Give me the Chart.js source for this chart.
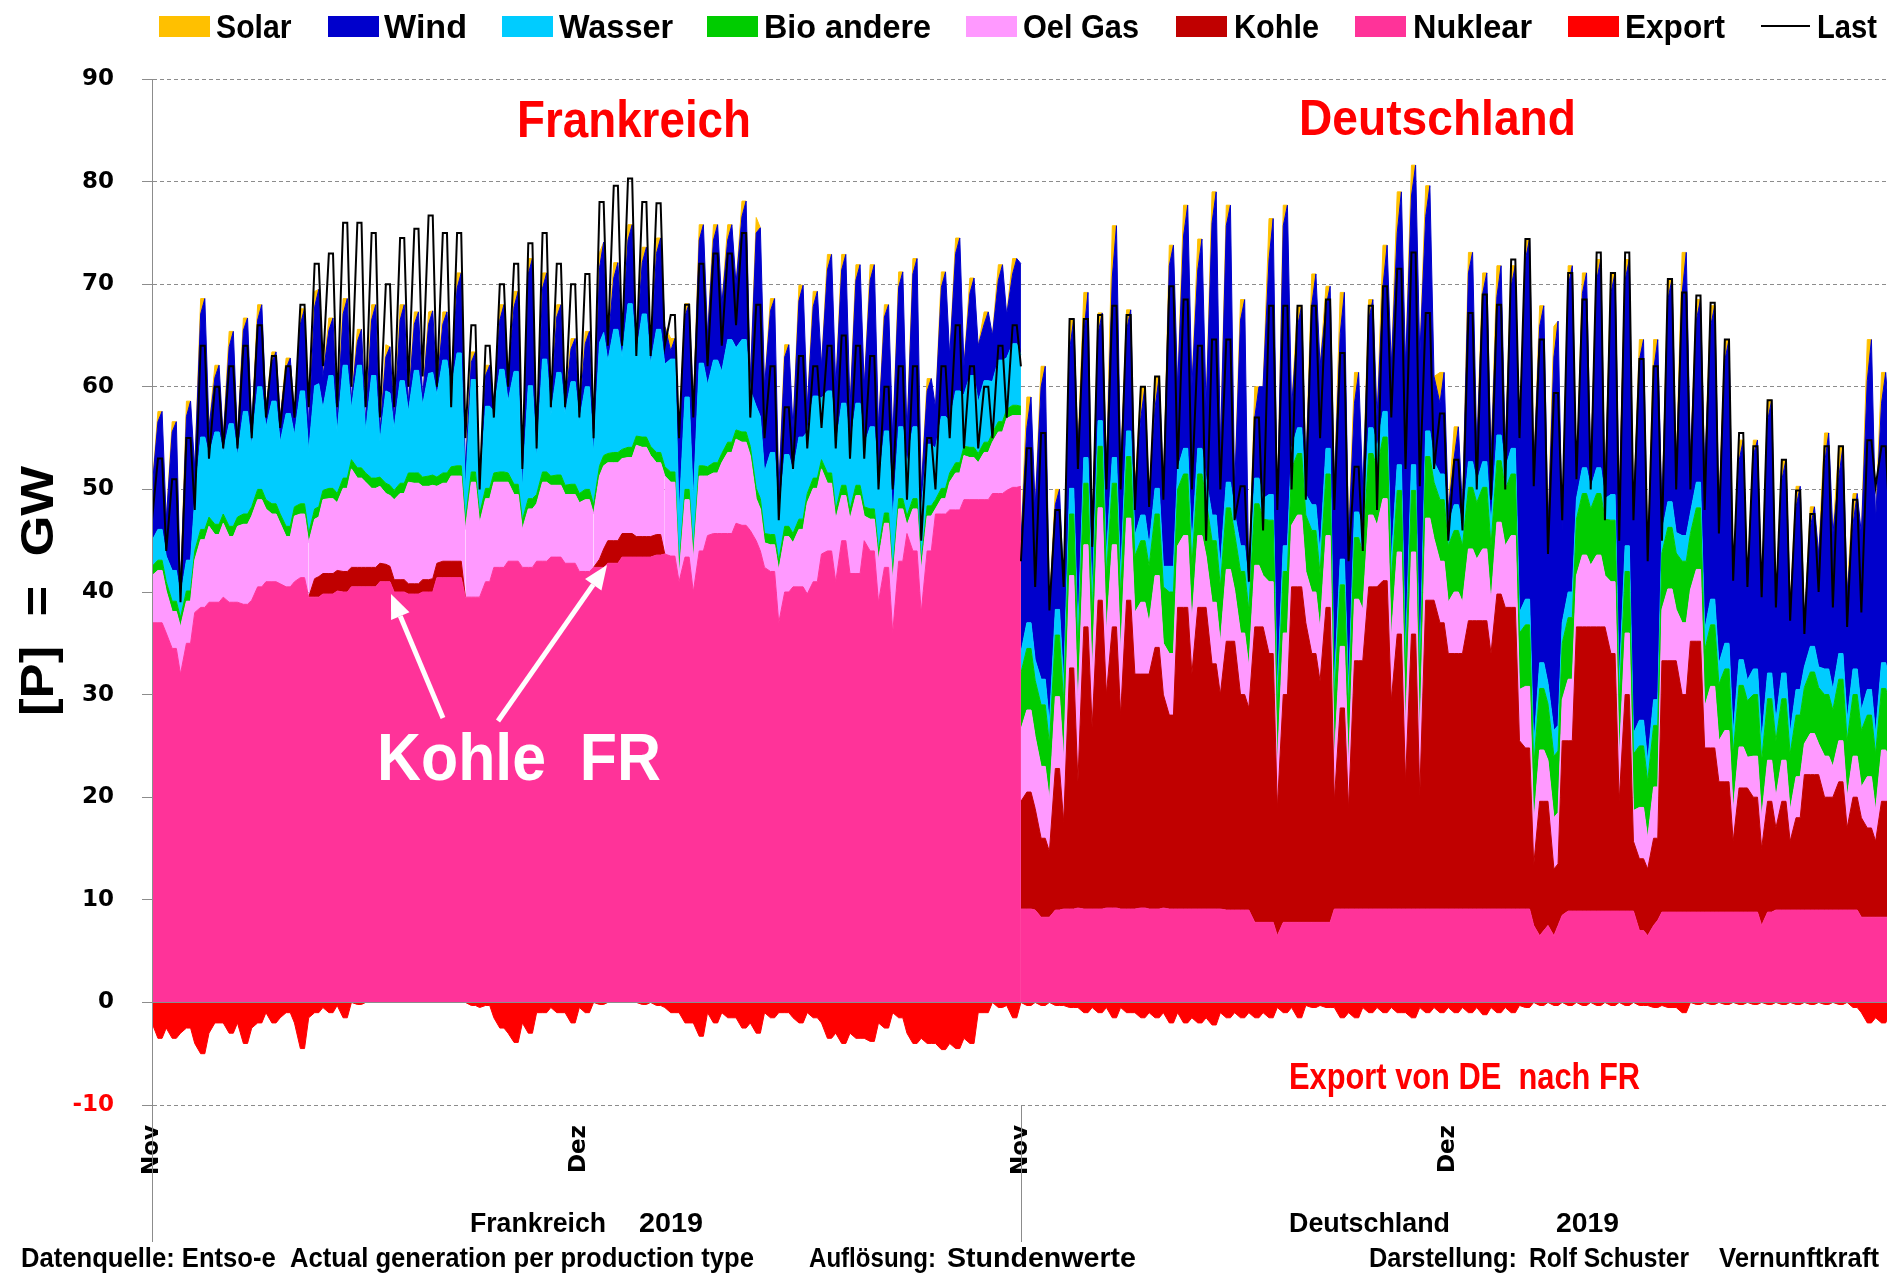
<!DOCTYPE html>
<html>
<head>
<meta charset="utf-8">
<script src="https://cdn.jsdelivr.net/npm/chart.js@4.4.1/dist/chart.umd.min.js"></script>
<style>
html,body{margin:0;padding:0;background:#ffffff;}
#wrap{width:1887px;height:1276px;position:relative;background:#ffffff;}
</style>
</head>
<body>
<div id="wrap"><canvas id="c" width="1887" height="1276"></canvas></div>
<script>
// ================= DATA =================
// x axis: days since 1 Nov (France 0..61, Germany 61..122).
// Three readings per day (about 0h, 10h, 17h), plus a closing value at the end of each country.
const tickDays = [0, 30, 61, 91];
const tickLabels = ['Nov', 'Dez', 'Nov', 'Dez'];
const frStartDay = 0;
const deStartDay = 61;
const daysPerCountry = 61;
const sampleHours = [0, 10, 17];
const seriesNames = ['Solar', 'Wind', 'Wasser', 'Bio andere', 'Oel Gas', 'Kohle', 'Nuklear', 'Export', 'Last'];

// ---- Frankreich (GW) ----
const frNuklear = [
37,37,37, 36,34.5,34.5, 32,35,35, 38,38.5,38.5, 39,39,39, 39.5,39,39, 39,38.8,38.8, 39.2,40.5,40.5, 41,41,41, 40.8,40.5,40.5,
41,41.4,41.4, 39.5,39.5,39.5, 39.8,39.8,39.8, 40.1,40,40, 40.5,40.5,40.5, 40.5,40.5,40.5, 41,41,41, 40,40,40, 39.8,39.8,39.8, 40,40,40,
41.4,41.4,41.4, 41.4,41.4,41.4, 39.5,39.5,39.5, 39.5,41,41, 42.4,42.4,42.4, 43,43,43, 42.4,42.4,42.4, 43,43,43, 43.4,43.4,43.4, 42.8,42.8,42.8,
42,42,42, 42.4,42.4,42.4, 42.8,42.8,42.8, 43.4,43.4,43.4, 43.4,43.4,43.4, 43.4,43.6,43.6, 43.7,43.5,43.5, 41,43.4,43.4, 40,44,44, 45.5,45.7,45.7,
45.7,45.7,45.7, 46.7,46.5,46.5, 46,45,44, 42.4,42,42, 37,40,40, 40.5,40.5,40.5, 39.8,41,41, 43.7,44,44, 41,45,45, 41.8,41.8,41.8,
45,44,44, 39,42.4,42.4, 36,43,43, 45.7,44,44, 38,44,44, 47.6,47.6,47.6, 48,48,48, 49,49,49, 49,49,49, 49.6,49.6,49.6,
49.9,50.2,50.2, 50.3];
const frKohle = [
0,0,0, 0,0,0, 0,0,0, 0,0,0, 0,0,0, 0,0,0, 0,0,0, 0,0,0, 0,0,0, 0,0,0,
0,0,0, 0,1.8,2, 2,2,2, 2,2,2, 1.9,1.9,1.9, 1.9,1.9,1.9, 1.8,1.7,1.5, 1.2,1.2,1.2, 1,1,1, 1.2,1.2,1.3,
1.4,1.6,1.6, 1.6,1.6,1.6, 0,0,0, 0,0,0, 0,0,0, 0,0,0, 0,0,0, 0,0,0, 0,0,0, 0,0,0,
0,0,0, 0,0.8,1.8, 2.2,2.2,2.2, 2.3,2.3,2.3, 2,2,2, 2,2,2, 0,0,0, 0,0,0, 0,0,0, 0,0,0,
0,0,0, 0,0,0, 0,0,0, 0,0,0, 0,0,0, 0,0,0, 0,0,0, 0,0,0, 0,0,0, 0,0,0,
0,0,0, 0,0,0, 0,0,0, 0,0,0, 0,0,0, 0,0,0, 0,0,0, 0,0,0, 0,0,0, 0,0,0,
0,0,0, 0];
const frOelGas = [
4.6,5.1,5.1, 4.1,3.6,3.6, 4.6,4.1,4.1, 5.1,6.6,6.6, 7.4,6.6,6.6, 7.2,6.4,6.4, 7.4,7.8,7.8, 8.2,8.5,8.5, 7.1,6.6,6.6, 5.9,4.9,4.9,
6.4,6.2,6.2, 5.3,5.8,5.8, 7.2,7.3,7.3, 6.6,8.1,8.1, 9.6,8.7,8.7, 8.3,7.7,7.7, 7.5,6.9,6.9, 7.8,8.4,8.4, 9.9,9.8,9.8, 9.1,9.1,9.1,
7.5,7.6,7.6, 8.3,8.3,8.3, 6.6,11.2,11.2, 7.2,8.1,8.1, 8.3,8.3,8.3, 7.7,6.5,6.5, 3.7,5.7,5.7, 5.6,7.7,7.7, 7,7,7, 6.7,6.7,6.7,
6.7,7,7, 5.2,8.1,8.1, 7.6,7.6,7.6, 7.3,7.4,7.4, 8.9,8.7,8.7, 7.9,7,7, 7.6,7.2,7.2, 0.5,5.6,5.6, 3.1,7.3,7.3, 5.8,5.9,5.9,
6.9,7.9,7.9, 8.2,8.1,8.1, 7.3,4.1,4.1, 2.4,2.6,2.6, 5.1,5.4,5.4, 4.3,5.6,5.6, 8.9,9.1,9.1, 8.3,6.6,6.6, 6.1,4.4,4.4, 5.3,7.6,7.6,
2.4,3.1,3.1, 4.1,4.3,4.3, 5.1,5.1,5.1, 0.8,4.1,4.1, 4.1,3.4,3.4, 0.5,1.5,1.5, 2.7,3.6,3.6, 4.3,4.1,4.1, 3.6,4.6,4.6, 5,6,6,
7,7,7, 6.9];
const frBio = [
0.9,1,1, 0.9,1,1, 0.9,1,1, 0.9,1,1, 0.9,1,1, 0.9,1,1, 0.9,1,1, 0.9,1,1, 0.9,1,1, 0.9,1,1,
0.9,1,1, 0.9,1,1, 0.9,1,1, 0.9,1,1, 0.9,1,1, 0.9,1,1, 0.9,1,1, 0.9,1,1, 0.9,1,1, 0.9,1,1,
0.9,1,1, 0.9,1,1, 0.9,1,1, 0.9,1,1, 0.9,1,1, 0.9,1,1, 0.9,1,1, 0.9,1,1, 0.9,1,1, 0.9,1,1,
0.9,1,1, 0.9,1,1, 0.9,1,1, 0.9,1,1, 0.9,1,1, 0.9,1,1, 0.9,1,1, 0.9,1,1, 0.9,1,1, 0.9,1,1,
0.9,1,1, 0.9,1,1, 0.9,1,1, 0.9,1,1, 0.9,1,1, 0.9,1,1, 0.9,1,1, 0.9,1,1, 0.9,1,1, 0.9,1,1,
0.9,1,1, 0.9,1,1, 0.9,1,1, 0.9,1,1, 0.9,1,1, 0.9,1,1, 0.9,1,1, 0.9,1,1, 0.9,1,1, 0.9,1,1,
0.9,1,1, 0.9];
const frWasser = [
2.5,3,3, 2.5,3,3, 2,3,3, 5,9,9, 6,9,9, 6,10,10, 6,10,10, 6,10,10, 7,10,10, 7,11,11,
7,11,11, 8,12,12, 8,11,11, 6,11,11, 5,10,10, 4,10,10, 3.5,9,9, 6,10,10, 6,10,10, 7,10,10,
8,11,11, 7.5,11,11, 3,9,9, 2,8,8, 6,10,10, 7,11,11, 3,11,11, 3.5,11,11, 6,10,10, 7,10,10,
7,10,10, 5,12,12, 9,12,12, 9,14,14, 8,12,12, 8,12,12, 10,11,11, 5,9,9, 5,10,10, 8,10,10,
8,10,10, 8,9,9, 5.5,8,8, 6,8,8, 4,7,7, 6,8,8, 6,8,8, 6,8,8, 6,8,8, 6,8,8,
6,8,8, 6,8,8, 5,7,7, 5,7,7, 5,6,6, 5,7,7, 5,7,7, 5,7,7, 5,6,6, 5,6,6,
5,6,6, 5];
const frWind = [
5,10.5,11.5, 3.5,13.5,14.5, 0.8,14,15.5, 3,12,13.5, 2.7,5.3,6.5, 1.4,7.5,9, 1.7,7.9,9.1, 1.7,6.5,8, 2,3.8,4.8, 2.4,4.4,5.4,
1.7,6.5,8, 2.3,7.7,9.2, 3.1,4.4,5.6, 1.2,5,6.5, 0.8,2.3,3.5, 0.8,5.4,6.9, 0.8,3.3,4.5, 0.9,5.9,7.4, 0.8,4.5,5.7, 0.8,4.8,6,
0.8,3.5,4.7, 0.8,6.3,7.8, 2,1.7,2.7, 0.8,3,4, 0.8,4.8,6.3, 2.4,6.3,7.8, 0.8,10.9,12.4, 0.8,6.9,8.4, 0.8,5.4,6.6, 0.8,3.2,4.2,
0.8,4.2,5.4, 0.8,7.3,8.8, 1.5,5,6.5, 2.1,6.2,7.7, 0.8,5,6.5, 1.1,7.4,8.9, 3.7,0.8,2, 7.6,7.9,9.1, 9,12,13.5, 4.8,11.7,13.2,
6.5,9.7,11.2, 6.2,12,13.5, 0.8,16.9,18.4, 8.3,13.8,15, 3,9.5,10.7, 4.3,13.3,14.8, 2.4,8.7,10.2, 3.1,11.8,13.3, 6,13,14.5, 4,12,13.5,
5.7,14.3,15.8, 6,11.1,12.3, 8,13.6,15.1, 3,14.9,16.4, 2,5.2,6.4, 4,12.6,14.1, 6.4,13.4,14.9, 2.8,8,9.5, 5.5,5.5,6.7, 4.5,7.8,9.3,
4.2,6.8,8.3, 8.9];
const frSolar = [
0,1,0, 0,1,0, 0,1.5,0, 0,1.5,0, 0,1.2,0, 0,1.5,0, 0,1.2,0, 0,1.5,0, 0,1,0, 0,1,0,
0,1.5,0, 0,1.5,0, 0,1.2,0, 0,1.5,0, 0,1.2,0, 0,1.5,0, 0,1.2,0, 0,1.5,0, 0,1.2,0, 0,1.2,0,
0,1.2,0, 0,1.5,0, 0,1,0, 0,1,0, 0,1.5,0, 0,1.5,0, 0,1.5,0, 0,1.5,0, 0,1.2,0, 0,1,0,
0,1.2,0, 0,1.5,0, 0,1.5,0, 0,1.5,0, 0,1.5,0, 0,1.5,0, 0,1.2,0, 0,1.2,0, 0,1.5,0, 0,1.5,0,
0,1.5,0, 0,1.5,0, 0,1.5,0, 0,1.2,0, 0,1.2,0, 0,1.5,0, 0,1.5,0, 0,1.5,0, 0,1.5,0, 0,1.5,0,
0,1.5,0, 0,1.2,0, 0,1.5,0, 0,1.5,0, 0,1.2,0, 0,1.5,0, 0,1.5,0, 0,1.5,0, 0,1.2,0, 0,1.5,0,
0,1.5,0, 0];
const frExport = [
-2,-3.5,-3.5, -2.5,-3.5,-3.5, -3,-2.5,-2.5, -4,-5,-5, -3,-2,-2, -2,-3,-3, -2,-4,-4, -2.5,-2,-2, -1,-2,-2, -1.5,-1,-1,
-2,-4.5,-4.5, -1.5,-1,-1, -0.5,-1,-1, -0.3,-1.5,-1.5, 0,-0.2,-0.2, 0,0,0, 0,0,0, 0,0,0, 0,0,0, 0,0,0,
0,0,0, 0,0,0, 0,-0.3,-0.3, -0.5,-0.3,-0.3, -1.5,-2.5,-2.5, -3,-3.9,-3.9, -2,-3,-3, -1,-1,-1, -0.5,-1,-1, -1,-2,-2,
-0.5,-1,-1, 0,-0.2,-0.2, 0,0,0, 0,0,0, 0,-0.2,-0.2, 0,-0.3,-0.3, -0.5,-1,-1, -1,-2,-2, -2,-3.3,-3.3, -1,-2,-2,
-1,-1.5,-1.5, -1.5,-2.5,-2.5, -2,-3,-3, -1,-1.5,-1.5, -1,-1,-1, -1.5,-2,-2, -1,-1.5,-1.5, -2,-3.5,-3.5, -3,-4,-4, -3,-3.5,-3.5,
-3.5,-3.8,-3.8, -2,-2.5,-2.5, -1,-1.5,-1.5, -3,-4,-4, -3.5,-4,-4, -4,-4.6,-4.6, -4,-4.5,-4.5, -3.5,-4,-4, -1,-1,-1, 0,-0.5,-0.5,
-0.3,-1.5,-1.5, 0];
const frLast = [
47,53,53, 44,51,51, 39,55,55, 48,64,64, 53,60,60, 54,62,62, 54,64,64, 55,66,66, 57,63,63, 56,62,62,
57,68,68, 58,72,72, 62,73,73, 58,76,76, 60,76,76, 58,75,75, 57,70,70, 58,74.5,74.5, 60,75.4,75.4, 61,76.7,76.7,
60,75,75, 58,75,75, 55,66,66, 50,64,64, 57,70,70, 60,72,72, 52,74,74, 54,75,75, 58,72,72, 58,70,70,
57,71,71, 55,78,78, 64,79.6,79.6, 64,80.3,80.3, 63,78,78, 63,77.9,77.9, 64,67,67, 55,68,68, 57,72,72, 62,73,73,
64,73,73, 66,75,75, 57,68,68, 55,62,62, 47,58,58, 52,63,63, 54,62,62, 56,64,64, 54,65,65, 53,64,64,
53,63,63, 50,60,60, 50,62,62, 49,62,62, 45,55,55, 50,62,62, 55,66,66, 54,62,62, 54,60,60, 55,64,64,
57,66,66, 62];

// ---- Deutschland (GW) ----
const deNuklear = [
9.1,9.1,9.1, 9,8.3,8.3, 8.3,9,9, 9.1,9.1,9.1, 9.2,9.1,9.1, 9.1,9.1,9.1, 9.2,9.2,9.2, 9.1,9.1,9.1, 9.1,9.2,9.2, 9.1,9.1,9.1,
9.2,9.1,9.1, 9.1,9.1,9.1, 9.1,9.1,9.1, 9.1,9.1,9.1, 9.1,9,9, 9,9,9, 9,7.8,7.8, 7.8,7.8,7.8, 6.5,7.8,7.8, 7.8,7.8,7.8,
7.8,7.8,7.8, 7.8,7.8,7.8, 9.1,9.1,9.1, 9.1,9.1,9.1, 9.1,9.1,9.1, 9.1,9.1,9.1, 9.1,9.1,9.1, 9.1,9.1,9.1, 9.1,9.1,9.1, 9.1,9.1,9.1,
9.1,9.1,9.1, 9.1,9.1,9.1, 9.1,9.1,9.1, 9.1,9.1,9.1, 9.1,9.1,9.1, 9.1,9.1,9.1, 7.5,6.5,7, 7.5,6.5,7.5, 8.5,8.9,8.9, 8.9,8.9,8.9,
8.9,8.9,8.9, 8.9,8.9,8.9, 8.9,8.9,8.9, 8.9,7,7, 6.5,7.5,8, 8.8,8.8,8.8, 8.8,8.8,8.8, 8.8,8.8,8.8, 8.8,8.8,8.8, 8.8,8.8,8.8,
8.8,8.8,8.8, 8.8,8.8,8.8, 7.5,8.8,8.8, 9,9,9, 9,9,9, 9,9,9, 9,9,9, 9,9,9, 9,9,9, 8.3,8.3,8.3,
8.3,8.3,8.3, 8.3];
const deKohle = [
10.5,11.4,11.4, 9.9,7.7,7.7, 6.4,13.8,13.8, 8.5,23.5,23.5, 12.3,27.5,27.5, 17.7,30.1,30.1, 20.8,27.4,27.4, 18.9,30.1,30.1, 22.9,22.8,22.8, 22.9,25.5,25.5,
20.8,18.9,18.9, 29.4,29.4,29.4, 22.9,29.4,29.4, 29.4,23.9,23.9, 20.9,26.2,26.2, 26.2,21,21, 19.7,28.8,28.8, 28.8,26.2,26.2, 12.4,22.2,22.2, 32.7,32.7,32.7,
29.2,26.2,26.2, 23.5,30.7,30.7, 10.5,19.6,19.6, 9.8,24.2,24.2, 24.2,31.4,31.4, 31.4,32,32, 20.3,26.8,26.8, 12.4,26.8,26.8, 11.1,30.1,30.1, 30.1,27.9,27.9,
24.9,24.9,24.9, 24.9,28.1,28.1, 28.1,28.1,28.1, 24.9,30.7,30.7, 29.4,29.4,29.4, 16.4,15.7,15.7, 5.9,13.1,12.6, 12.1,6.5,6, 17,16.6,16.6, 27.7,27.7,27.7,
27.7,27.7,27.7, 27.7,25.1,25.1, 10.7,21.1,21.1, 6.8,7,7, 6.5,8.5,8, 24.5,24.5,24.5, 24.5,21.2,21.2, 26.4,26.4,26.4, 16,16,16, 12.7,12.7,12.7,
6.9,12.1,12.1, 12.1,11.2,11.2, 7.5,10.8,10.8, 8,10.6,10.6, 6.7,9,9, 13.2,13.2,13.2, 13.2,11,11, 11,12.5,12.5, 8,11,11, 9.7,8.7,8.7,
7.4,11.3,11.3, 11.3];
const deOelGas = [
7,8,8, 7,7,7, 5,7,7, 6,9,9, 7,8,8, 5,9,9, 6,8,8, 6,8,8, 6,7,7, 5,7,7,
5,6,6, 6,7,7, 5,7,7, 5,6,6, 5,7,7, 5,6,6, 4,6,6, 5,7,7, 4,6,6, 6,7,7,
5,6,6, 5,7,7, 4,6,6, 4,6,6, 5,7,7, 6,8,8, 6,8,8, 5,8,8, 5,8,8, 6,6,6,
5,6,6, 5,7,7, 6,7,7, 5,7,7, 6,7,7, 5,6,6, 4,5,5, 4,5,5, 4,6,6, 5,7,7,
6,7,7, 5,7,7, 4,6,6, 3,5,5, 3,5,5, 5,7,7, 5,7,7, 5,7,7, 4,6,6, 4,5,5,
3,4,4, 3,4,4, 3,4,4, 3,4,4, 3,4,4, 3,4,4, 3,4,4, 3,4,4, 3,4,4, 3,5,5,
3,5,5, 4];
const deBio = [
5.5,6,6, 5.5,6,6, 5.5,6,6, 5.5,6,6, 5.5,6,6, 5.5,6,6, 5.5,6,6, 5.5,6,6, 5.5,6,6, 5.5,6,6,
5.5,6,6, 5.5,6,6, 5.5,6,6, 5.5,6,6, 5.5,6,6, 5.5,6,6, 5.5,6,6, 5.5,6,6, 5.5,6,6, 5.5,6,6,
5.5,6,6, 5.5,6,6, 5.5,6,6, 5.5,6,6, 5.5,6,6, 5.5,6,6, 5.5,6,6, 5.5,6,6, 5.5,6,6, 5.5,6,6,
5.5,6,6, 5.5,6,6, 5.5,6,6, 5.5,6,6, 5.5,6,6, 5.5,6,6, 5.5,6,6, 5.5,6,6, 5.5,6,6, 5.5,6,6,
5.5,6,6, 5.5,6,6, 5.5,6,6, 5.5,6,6, 5.5,6,6, 5.5,6,6, 5.5,6,6, 5.5,6,6, 5.5,6,6, 5.5,6,6,
5.5,6,6, 5.5,6,6, 5.5,6,6, 5.5,6,6, 5.5,6,6, 5.5,6,6, 5.5,6,6, 5.5,6,6, 5.5,6,6, 5.5,6,6,
5.5,6,6, 5.5];
const deWasser = [
2,2.5,2.5, 2,2.5,2.5, 2,2.5,2.5, 2,2.5,2.5, 2,2.5,2.5, 2,2.5,2.5, 2,2.5,2.5, 2,2.5,2.5, 2,2.5,2.5, 2,2.5,2.5,
2,2.5,2.5, 2,2.5,2.5, 2,2.5,2.5, 2,2.5,2.5, 2,2.5,2.5, 2,2.5,2.5, 2,2.5,2.5, 2,2.5,2.5, 2,2.5,2.5, 2,2.5,2.5,
2,2.5,2.5, 2,2.5,2.5, 2,2.5,2.5, 2,2.5,2.5, 2,2.5,2.5, 2,2.5,2.5, 2,2.5,2.5, 2,2.5,2.5, 2,2.5,2.5, 2,2.5,2.5,
2,2.5,2.5, 2,2.5,2.5, 2,2.5,2.5, 2,2.5,2.5, 2,2.5,2.5, 2,2.5,2.5, 2,2.5,2.5, 2,2.5,2.5, 2,2.5,2.5, 2,2.5,2.5,
2,2.5,2.5, 2,2.5,2.5, 2,2.5,2.5, 2,2.5,2.5, 2,2.5,2.5, 2,2.5,2.5, 2,2.5,2.5, 2,2.5,2.5, 2,2.5,2.5, 2,2.5,2.5,
2,2.5,2.5, 2,2.5,2.5, 2,2.5,2.5, 2,2.5,2.5, 2,2.5,2.5, 2,2.5,2.5, 2,2.5,2.5, 2,2.5,2.5, 2,2.5,2.5, 2,2.5,2.5,
2,2.5,2.5, 2];
const deWind = [
10.9,19,22, 14.9,28.5,30.5, 11.3,10.2,11.7, 9.4,13.5,16.5, 18,12.1,16.1, 5.7,8.5,10.5, 8.5,17.6,22.6, 10.5,9.8,11.8, 4.5,9.5,12.5, 4.5,7.9,10.9,
7.5,29.3,31.3, 8,20.7,23.7, 15.5,17.4,20.4, 7,28.5,31.5, 11.5,25,27, 2.3,22,24, 0.8,5.9,8.9, 10.9,22.9,26.9, 17.6,31.2,33.2, 4,9.9,11.9,
2.5,19.5,22.5, 18.2,13.8,15.8, 19.2,22,26, 14.6,10.6,13.6, 4.2,10.5,12.5, 3,12.2,16.2, 19.1,22.6,26.6, 28,26.2,29.2, 30.3,20.9,23.9, 8.3,6.9,9.9,
1.5,4.6,7.6, 1.5,18.4,20.4, 3.3,16.4,18.4, 6.5,13.5,16.5, 2,15.8,17.8, 16,33.1,35.1, 27.1,32.8,34.8, 15.2,36.4,39.4, 9,29.8,31.8, 0.9,17,19,
1.9,18.3,20.3, 0.9,19.6,21.6, 17.9,25.9,27.9, 21.8,35.1,37.1, 19.5,32.1,35.1, 2.2,19.7,21.7, 6.2,23.6,27.6, 5.3,15.8,17.8, 15.7,26.6,28.6, 15,27.6,29.6,
15.6,19.4,21.4, 9.1,20.8,22.3, 14.3,24.6,26.6, 11,18.8,20.8, 12.3,17.8,19.8, 4.5,11.6,13.6, 11,20,23, 15.2,17.2,20.2, 12.5,14.1,17.1, 17.2,30.1,34.1,
20.8,25.3,28.3, 24.9];
const deSolar = [
0,3,0, 0,2,0, 0,1.5,0, 0,3,0, 0,4,0, 0,2,0, 0,5,0, 0,2,0, 0,3,0, 0,3,0,
0,2,0, 0,3,0, 0,3,0, 0,3,0, 0,2,0, 0,2,0, 0,3,0, 0,4,0, 0,2,0, 0,2,0,
0,3,0, 0,2,0, 0,4,0, 0,3,0, 0,2,0, 0,4,0, 0,4,0, 0,3,0, 0,3,0, 0,3,0,
0,3,0, 0,2,0, 0,2,0, 0,3,0, 0,2,0, 0,2,0, 0,2,0, 0,3,0, 0,2,0, 0,2,0,
0,2,0, 0,2,0, 0,2,0, 0,2,0, 0,3,0, 0,2,0, 0,4,0, 0,2,0, 0,2,0, 0,2,0,
0,2,0, 0,1.5,0, 0,2,0, 0,2,0, 0,2,0, 0,2,0, 0,3,0, 0,3,0, 0,3,0, 0,4,0,
0,3,0, 0];
const deExport = [
0,-0.3,-0.3, 0,-0.3,-0.3, 0,-0.3,-0.3, -0.3,-0.5,-0.5, -0.5,-1,-1, -0.5,-1,-1, -0.5,-1.5,-1.5, -0.5,-1,-1, -1,-1.5,-1.5, -1,-1.5,-1.5,
-1,-2,-2, -1,-2,-2, -1.5,-2,-2, -1.5,-2.2,-2.2, -1,-1.5,-1.5, -1,-1.5,-1.5, -1,-1.5,-1.5, -1,-1.5,-1.5, -0.5,-1,-1, -0.5,-1.5,-1.5,
-0.3,-0.5,-0.5, -0.3,-0.5,-0.5, -0.5,-1.5,-1.5, -1,-1.5,-1.5, -0.5,-1,-1, -0.5,-1,-1, -0.5,-1,-1, -1,-1.5,-1.5, -0.5,-1,-1, -0.5,-1,-1,
-0.5,-1,-1, -0.5,-1,-1, -0.5,-1.2,-1.2, -0.5,-1,-1, -0.5,-1,-1, -0.3,-0.5,-0.5, 0,-0.3,-0.3, 0,-0.3,-0.3, 0,-0.3,-0.3, 0,-0.3,-0.3,
0,-0.3,-0.3, 0,-0.3,-0.3, 0,-0.3,-0.3, 0,-0.3,-0.3, -0.3,-0.5,-0.5, -0.3,-0.5,-0.5, -0.5,-1,-1, 0,-0.2,-0.2, 0,-0.2,-0.2, 0,-0.2,-0.2,
0,-0.2,-0.2, 0,-0.2,-0.2, 0,-0.2,-0.2, 0,-0.2,-0.2, 0,-0.2,-0.2, 0,-0.2,-0.2, 0,-0.2,-0.2, 0,-0.2,-0.2, 0,-0.5,-0.5, -1,-2,-2,
-1.5,-2,-2, -1];
const deLast = [
43,54,54, 40.5,55.5,55.5, 38.2,48,48, 40.5,66.6,66.6, 52,66.6,66.6, 44.4,67,67, 50,67.9,67.9, 50,67,67, 48,60,60, 48.3,61,61,
49,69.8,69.8, 52,68.5,68.5, 50,64,64, 45,64.6,64.6, 50,64.6,64.6, 47,50.3,50.3, 41,57,57, 46,67.9,67.9, 48,67.9,67.9, 50,67.9,67.9,
49,67.9,67.9, 55,68.5,68.5, 48,63.3,63.3, 43,52.2,52.2, 44,67.9,67.9, 48,69.8,69.8, 57,71.5,71.5, 52,73.1,73.1, 50.3,67.2,67.2, 52,57.4,57.4,
45,52.9,52.9, 46,67.2,67.2, 50,69,69, 49,68,68, 50,72.4,72.4, 55,74.4,74.4, 50.3,64.6,64.6, 43.7,59.4,59.4, 47,71.1,71.1, 51,68.5,68.5,
50,73.1,73.1, 47,71.1,71.1, 45,73.1,73.1, 47,62.7,62.7, 43,62,62, 45,70.5,70.5, 50,69.2,69.2, 50,68.9,68.9, 48,68.2,68.2, 45.7,64.6,64.6,
41.1,55.5,55.5, 40.5,54.2,54.2, 39.5,58.7,58.7, 38.5,52.9,52.9, 37.2,49.9,49.9, 35.9,47.6,47.6, 40,54.2,54.2, 38.5,54.2,54.2, 36.6,49,49, 38,54.8,54.8,
50.3,54.2,54.2, 46.3];

// ================= STYLE =================
const colors = {
  'Solar': '#ffc000', 'Wind': '#0000cc', 'Wasser': '#00ccff', 'Bio andere': '#00cc00',
  'Oel Gas': '#ff99ff', 'Kohle': '#c00000', 'Nuklear': '#ff3399', 'Export': '#ff0000', 'Last': '#000000'
};
const NARROW = '"Liberation Sans Narrow", "Liberation Sans", "Arial Narrow", sans-serif';
const WIDE = '"DejaVu Sans", Verdana, sans-serif';

function pts(arr, start) {
  const last = arr.length - 1;
  return arr.map((v, i) => {
    const day = Math.floor(i / sampleHours.length), k = i % sampleHours.length;
    const x = i === last ? start + daysPerCountry : start + day + sampleHours[k] / 24;
    return { x: x, y: v };
  });
}
function areaSet(name, arr, start, stack, fill) {
  const c = colors[name];
  return {
    label: name, data: pts(arr, start), stack: stack, fill: fill,
    backgroundColor: c, borderColor: c, borderWidth: 1, pointRadius: 0, tension: 0,
    segment: { borderColor: s => (arr[s.p0DataIndex] === 0 && arr[s.p1DataIndex] === 0) ? 'rgba(0,0,0,0)' : c }
  };
}
function layerSets(start, stack, layers) {
  return layers.map((l, i) => areaSet(l[0], l[1], start, stack, i === 0 ? 'origin' : '-1'));
}
const datasets = [].concat(
  layerSets(frStartDay, 'FR', [['Nuklear', frNuklear], ['Kohle', frKohle], ['Oel Gas', frOelGas], ['Bio andere', frBio], ['Wasser', frWasser], ['Wind', frWind], ['Solar', frSolar]]),
  layerSets(deStartDay, 'DE', [['Nuklear', deNuklear], ['Kohle', deKohle], ['Oel Gas', deOelGas], ['Bio andere', deBio], ['Wasser', deWasser], ['Wind', deWind], ['Solar', deSolar]]),
  [areaSet('Export', frExport, frStartDay, 'FRx', 'origin'), areaSet('Export', deExport, deStartDay, 'DEx', 'origin')],
  [frLast, deLast].map((arr, k) => ({
    label: 'Last', data: pts(arr, k === 0 ? frStartDay : deStartDay), stack: k === 0 ? 'FRl' : 'DEl',
    fill: false, borderColor: '#000', borderWidth: 2, pointRadius: 0, tension: 0, order: -1
  }))
);

// ================= DECORATION =================
function fitText(ctx, text, x, y, w, font, color) {
  ctx.save();
  ctx.font = font; ctx.fillStyle = color;
  ctx.textAlign = 'left'; ctx.textBaseline = 'alphabetic';
  const m = ctx.measureText(text).width;
  ctx.translate(x, y); ctx.scale(w / m, 1);
  ctx.fillText(text, 0, 0);
  ctx.restore();
}
function arrow(ctx, x1, y1, x2, y2) {
  const ang = Math.atan2(y2 - y1, x2 - x1), L = 24, H = 10;
  const bx = x2 - L * Math.cos(ang), by = y2 - L * Math.sin(ang);
  ctx.save();
  ctx.strokeStyle = '#fff'; ctx.fillStyle = '#fff'; ctx.lineWidth = 5; ctx.lineCap = 'butt';
  ctx.beginPath(); ctx.moveTo(x1, y1); ctx.lineTo(bx, by); ctx.stroke();
  ctx.beginPath(); ctx.moveTo(x2, y2);
  ctx.lineTo(bx + H * Math.sin(ang), by - H * Math.cos(ang));
  ctx.lineTo(bx - H * Math.sin(ang), by + H * Math.cos(ang));
  ctx.closePath(); ctx.fill();
  ctx.restore();
}
const legendPos = [
  [159, 216, 75.5], [328, 384, 83], [502, 559, 114], [707, 764, 167], [966, 1023, 116],
  [1176, 1234, 85], [1355, 1413, 119], [1568, 1625, 100], [1761, 1817, 60]
];
const decor = {
  id: 'decor',
  afterDatasetsDraw(chart) {
    const { ctx, chartArea: a, scales: { x, y } } = chart;
    ctx.save();
    ctx.strokeStyle = '#8c8c8c'; ctx.lineWidth = 1;
    const y0 = Math.round(y.getPixelForValue(0)) + 0.5;
    ctx.beginPath(); ctx.moveTo(a.left, y0); ctx.lineTo(a.right, y0); ctx.stroke();
    const ax = Math.round(a.left) + 0.5;
    ctx.beginPath(); ctx.moveTo(ax, a.top); ctx.lineTo(ax, 1242); ctx.stroke();
    tickDays.forEach((d, i) => {
      if (tickLabels[i] === 'Nov' && d > 0) {
        const px = Math.round(x.getPixelForValue(d)) + 0.5;
        ctx.beginPath(); ctx.moveTo(px, a.bottom); ctx.lineTo(px, 1242); ctx.stroke();
      }
    });
    ctx.restore();
    fitText(ctx, 'Frankreich', 517, 137, 234, 'bold 52px ' + NARROW, '#ff0000');
    fitText(ctx, 'Deutschland', 1299, 135, 277, 'bold 50px ' + NARROW, '#ff0000');
    fitText(ctx, 'Kohle  FR', 377, 780, 284, 'bold 66px ' + NARROW, '#ffffff');
    fitText(ctx, 'Export von DE  nach FR', 1289, 1089, 351, 'bold 36px ' + NARROW, '#ff0000');
    arrow(ctx, 443, 718, 391, 594);
    arrow(ctx, 498, 721, 607, 565);
  },
  afterDraw(chart) {
    const ctx = chart.ctx;
    seriesNames.forEach((n, i) => {
      const p = legendPos[i];
      ctx.save();
      if (n === 'Last') {
        ctx.strokeStyle = '#000'; ctx.lineWidth = 2;
        ctx.beginPath(); ctx.moveTo(p[0], 26); ctx.lineTo(p[0] + 49, 26); ctx.stroke();
      } else {
        ctx.fillStyle = colors[n]; ctx.fillRect(p[0], 16, 51, 21);
      }
      ctx.restore();
      fitText(ctx, n, p[1], 37.5, p[2], 'bold 33px ' + NARROW, '#000');
    });
    ctx.save();
    ctx.font = 'bold 46px ' + NARROW; ctx.fillStyle = '#000';
    const t = '[P]  =  GW';
    const m = ctx.measureText(t).width;
    ctx.translate(53, 716); ctx.rotate(-Math.PI / 2); ctx.scale(250 / m, 1);
    ctx.fillText(t, 0, 0);
    ctx.restore();
    const f = 'bold 28px ' + NARROW;
    fitText(ctx, 'Frankreich', 470, 1232, 136, f, '#000');
    fitText(ctx, '2019', 639, 1232, 64, f, '#000');
    fitText(ctx, 'Deutschland', 1289, 1232, 161, f, '#000');
    fitText(ctx, '2019', 1556, 1232, 63, f, '#000');
    fitText(ctx, 'Datenquelle: Entso-e  Actual generation per production type', 21, 1267, 733, f, '#000');
    fitText(ctx, 'Auflösung:', 809, 1267, 127, f, '#000');
    fitText(ctx, 'Stundenwerte', 947, 1267, 189, f, '#000');
    fitText(ctx, 'Darstellung:', 1369, 1267, 148, f, '#000');
    fitText(ctx, 'Rolf Schuster', 1529, 1267, 160, f, '#000');
    fitText(ctx, 'Vernunftkraft', 1719, 1267, 160, f, '#000');
  }
};

// ================= CHART =================
new Chart(document.getElementById('c'), {
  type: 'line',
  data: { datasets: datasets },
  options: {
    responsive: false, animation: false, devicePixelRatio: 1, events: [],
    layout: { padding: { top: 79, right: 0, bottom: 0, left: 0 } },
    plugins: { legend: { display: false }, tooltip: { enabled: false }, title: { display: false } },
    scales: {
      x: {
        type: 'linear', min: 0, max: 121.8,
        afterBuildTicks: s => { s.ticks = tickDays.map(v => ({ value: v })); },
        afterFit: s => { s.height = 171; },
        ticks: {
          autoSkip: false, minRotation: 90, maxRotation: 90, padding: 20, color: '#000',
          font: { family: WIDE, weight: 'bold', size: 23 },
          callback: v => { const i = tickDays.indexOf(v); return i >= 0 ? tickLabels[i] : ''; }
        },
        grid: { display: false, drawTicks: false },
        border: { display: false }
      },
      y: {
        stacked: true, min: -10, max: 90,
        afterFit: s => { s.width = 152; },
        ticks: {
          stepSize: 10, padding: 28,
          color: c => (c.tick && c.tick.value === -10) ? '#ff0000' : '#000',
          font: { family: WIDE, weight: 'bold', size: 23 }
        },
        grid: { color: '#8c8c8c', lineWidth: 1, drawTicks: true, tickLength: 10, tickColor: '#8c8c8c' },
        border: { display: true, color: '#8c8c8c', dash: [4, 3] }
      }
    }
  },
  plugins: [decor]
});
</script>
</body>
</html>
